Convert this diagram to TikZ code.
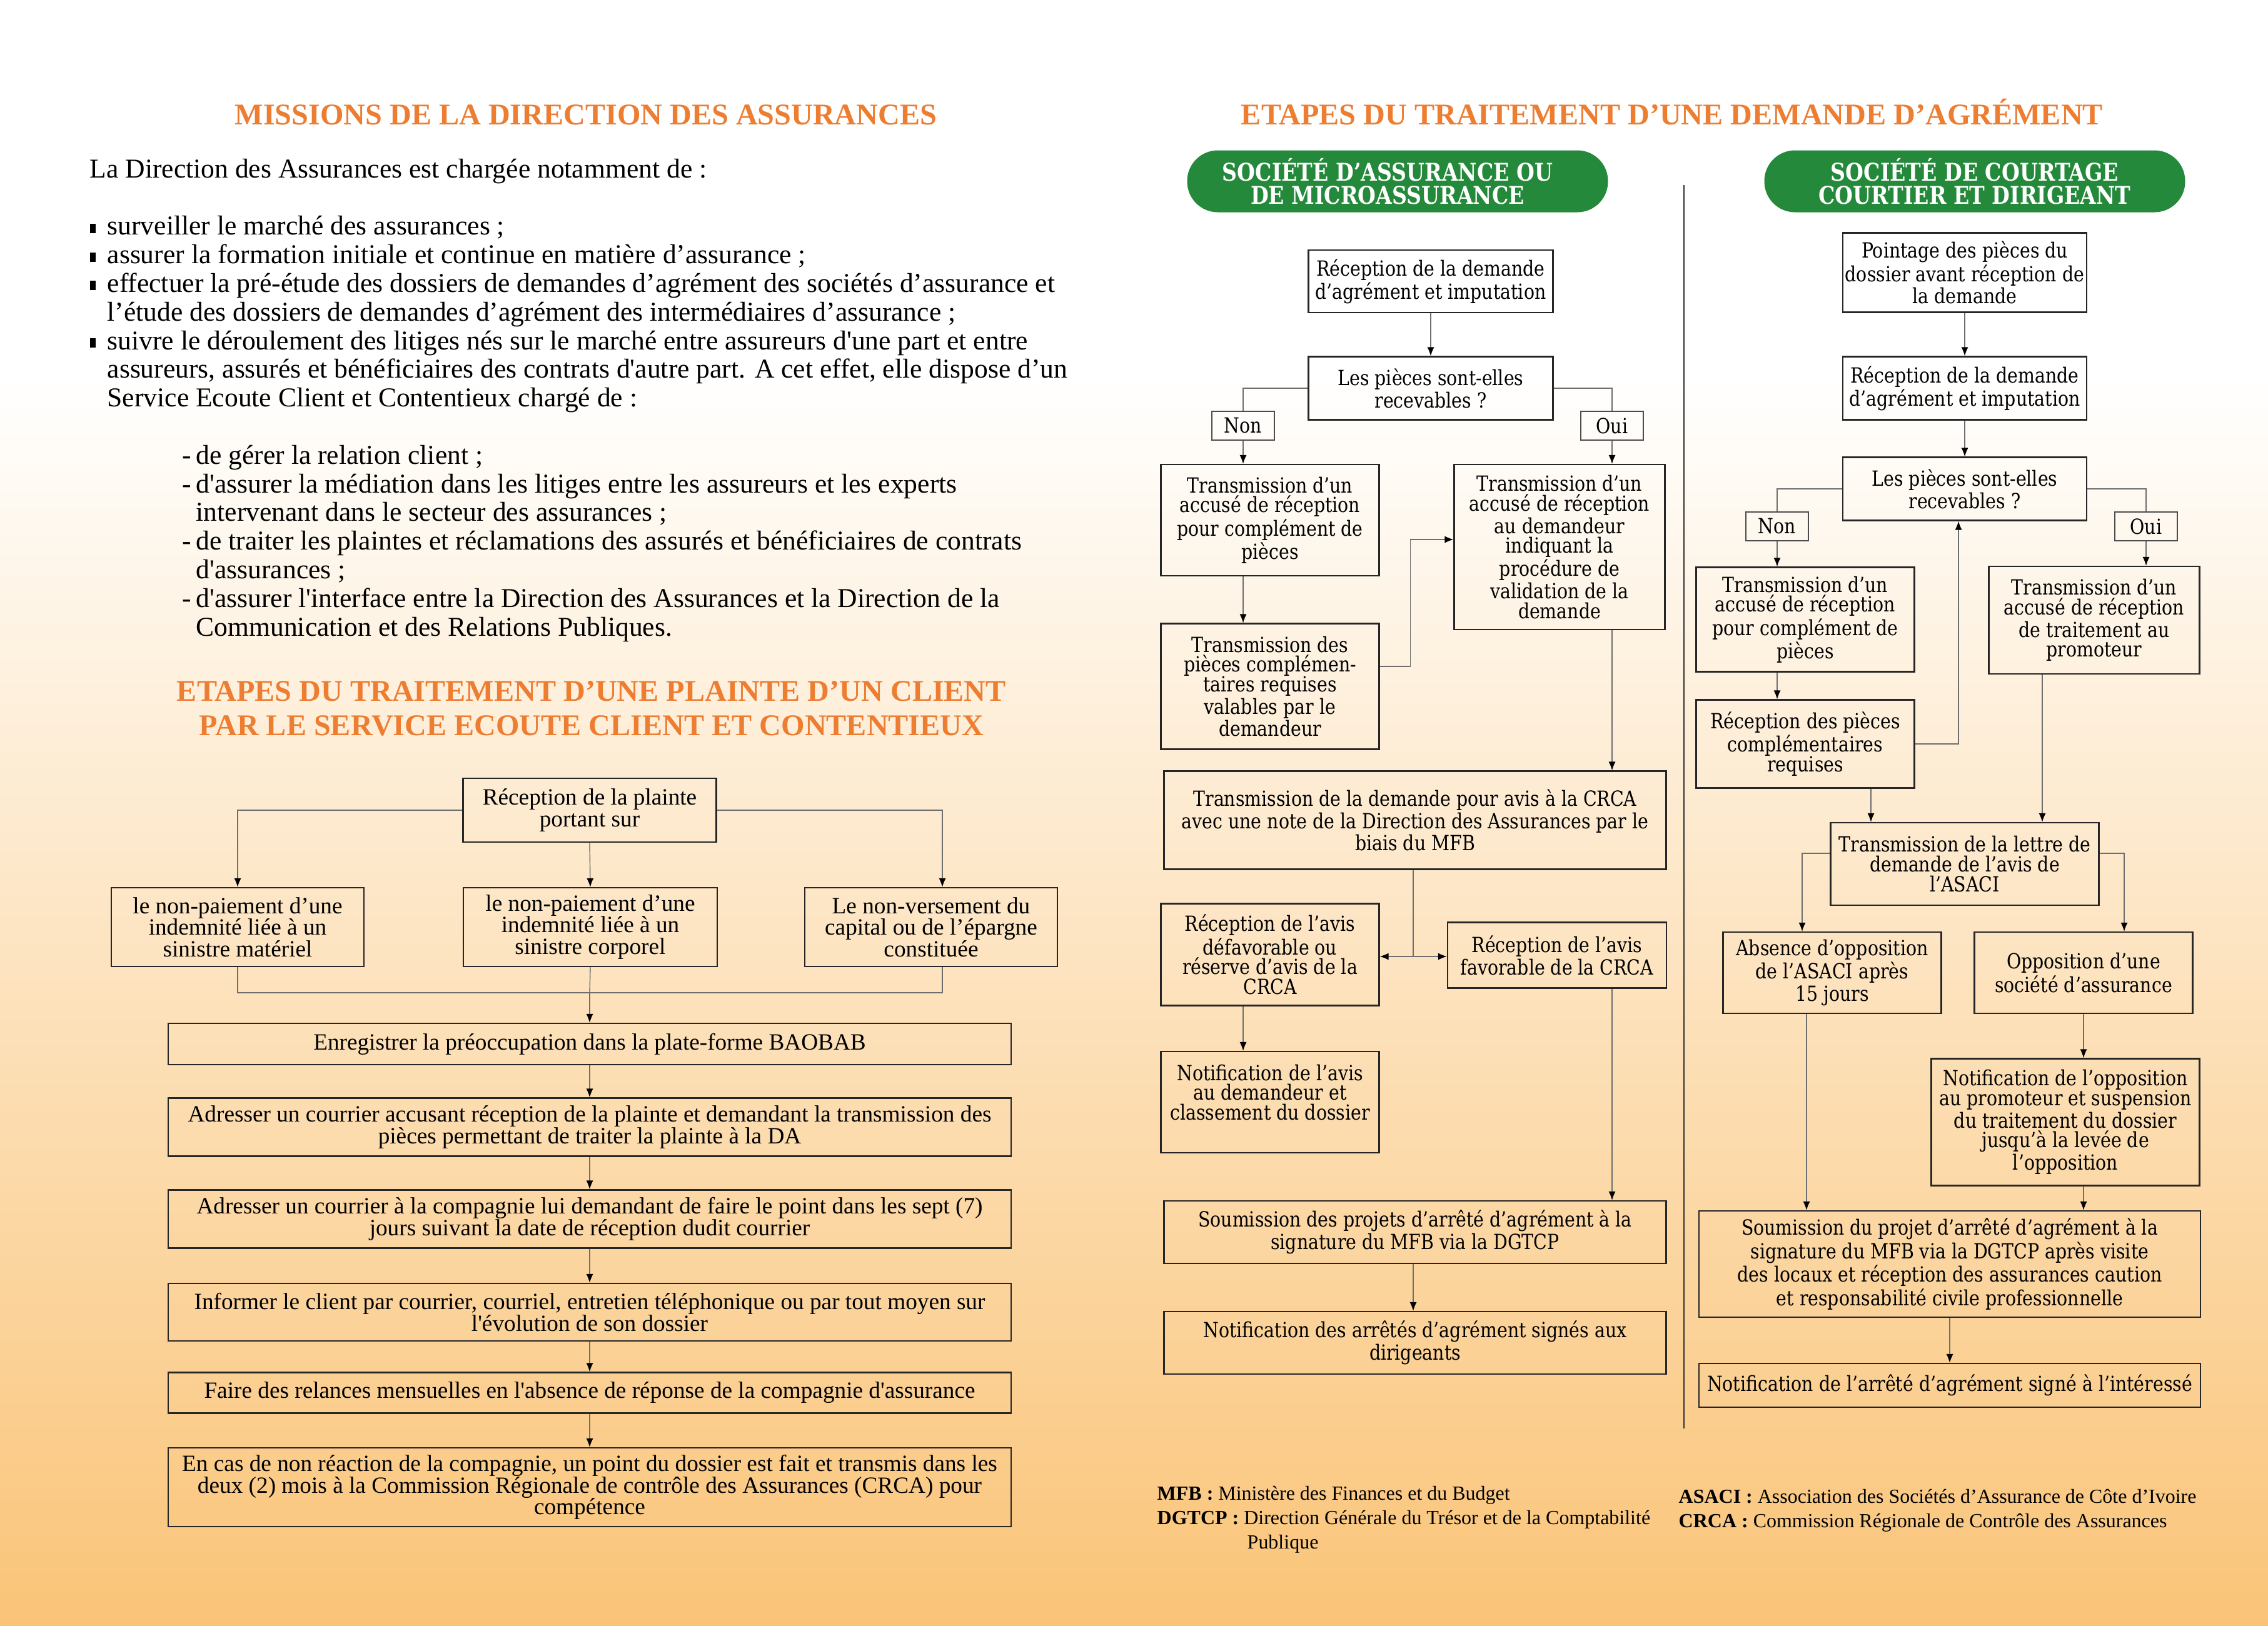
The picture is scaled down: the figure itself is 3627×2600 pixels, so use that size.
\documentclass[tikz,border=0pt]{standalone}
\usepackage{fontspec}
\setmainfont{Liberation Serif}[Ligatures=TeXOff]
\newfontfamily\bookman{DejaVu Serif}[FakeStretch=0.85]
\usetikzlibrary{arrows.meta}

\definecolor{titreorange}{RGB}{237,125,49}
\definecolor{vertpilule}{RGB}{36,137,58}
\definecolor{fondorange}{RGB}{250,196,120}
\definecolor{trait}{RGB}{110,110,110}

\newcommand{\puce}{\makebox[2.8mm][l]{\rule[0.15ex]{0.9mm}{1.5mm}}}
\newcommand{\tiret}{\hspace*{14.8mm}\makebox[2.2mm][l]{-}}
\newcommand{\suite}{\hspace*{2.8mm}}
\newcommand{\suitetiret}{\hspace*{17mm}}
\newcommand{\decale}{\hspace*{3.2mm}}

\tikzset{
  boite/.style 2 args={draw=black!85, line width=0.6pt, minimum width=#1, minimum height=#2, align=center, inner sep=0pt},
  gauche/.style={font=\fontsize{10.6}{9.8}\selectfont},
  droite/.style={font=\bookman\fontsize{9.5}{9}\selectfont},
  lien/.style={draw=trait, line width=0.4pt},
  fleche/.style={draw=trait, line width=0.4pt, -{Latex[length=1.4mm,width=1.1mm,color=black]}},
  titre/.style={font=\bfseries\fontsize{13.7}{15.6}\selectfont, text=titreorange, align=center},
  pilule/.style={fill=vertpilule, rounded corners=4.9mm, minimum width=67.3mm, minimum height=9.9mm, text=white, font=\bookman\bfseries\fontsize{11.1}{10.5}\selectfont, align=center, inner sep=0pt},
  etiquette/.style={draw=black!70, line width=0.4pt, minimum width=10mm, minimum height=4.6mm, inner sep=0pt, droite},
  texte/.style={font=\fontsize{12.4}{13.04}\selectfont, align=left, inner sep=0pt},
  legende/.style={font=\fontsize{9.1}{10}\selectfont, inner sep=0pt}
}

\begin{document}
\begin{tikzpicture}[x=0.1mm, y=-0.1mm]
% fond
\fill[white] (0,0) rectangle (3627,600);
\shade[top color=white, bottom color=fondorange] (0,600) rectangle (3627,2600);
\useasboundingbox (0,0) rectangle (3627,2600);

% titres
\node[titre, anchor=base] (titremissions) at (937,199) {MISSIONS DE LA DIRECTION DES ASSURANCES};
\node[titre] (titreplainte) at (946,1133) {ETAPES DU TRAITEMENT D’UNE PLAINTE D’UN CLIENT\\PAR LE  SERVICE ECOUTE CLIENT ET CONTENTIEUX};
\node[titre, anchor=base] (titreagrement) at (2674,199) {ETAPES DU TRAITEMENT D’UNE DEMANDE D’AGRÉMENT};

% missions
\node[texte, anchor=north west] (missions) at (143,253) {%
La Direction des Assurances est chargée notamment de :\\[13.04pt]
\puce surveiller le marché des assurances ;\\
\puce assurer la formation initiale et continue en matière d’assurance ;\\
\puce effectuer la pré-étude des dossiers de demandes d’agrément des sociétés d’assurance et\\
\suite l’étude des dossiers de demandes d’agrément des intermédiaires d’assurance ;\\
\puce suivre le déroulement des litiges nés sur le marché entre assureurs d'une part et entre\\
\suite assureurs, assurés et bénéficiaires des contrats d'autre part. A cet effet, elle dispose d’un\\
\suite Service Ecoute Client et Contentieux chargé de :\\[13.04pt]
\tiret de gérer la relation client ;\\
\tiret d'assurer la médiation dans les litiges entre les assureurs et les experts\\
\suitetiret intervenant dans le secteur des assurances ;\\
\tiret de traiter les plaintes et réclamations des assurés et bénéficiaires de contrats\\
\suitetiret d'assurances ;\\
\tiret d'assurer l'interface entre la Direction des Assurances et la Direction de la\\
\suitetiret Communication et des Relations Publiques.};

% plainte d'un client
\node[boite={40.5mm}{10.2mm}, gauche] (plainte) at (943,1296) {Réception de la plainte\\portant sur};
\node[boite={40.4mm}{12.6mm}, gauche] (materiel) at (380,1483) {le non-paiement d’une\\indemnité liée à un\\sinistre matériel};
\node[boite={40.6mm}{12.6mm}, gauche] (corporel) at (944,1483) {le non-paiement d’une\\indemnité liée à un\\sinistre corporel};
\node[boite={40.4mm}{12.6mm}, gauche] (capital) at (1489,1483) {Le non-versement du\\capital ou de l’épargne\\constituée};
\coordinate (jonction) at (943,1588);
\node[boite={134.8mm}{6.6mm}, gauche] (baobab) at (943,1670) {Enregistrer la préoccupation dans la plate-forme BAOBAB};
\node[boite={134.8mm}{9.3mm}, gauche] (courrier1) at (943,1803) {Adresser un courrier accusant réception de la plainte et demandant la transmission des\\pièces permettant de traiter la plainte à la DA};
\node[boite={134.8mm}{9.3mm}, gauche] (courrier2) at (943,1950) {Adresser un courrier à la compagnie lui demandant de faire le point dans les sept (7)\\jours suivant la date de réception dudit courrier};
\node[boite={134.8mm}{9.2mm}, gauche] (informer) at (943,2099) {Informer le client par courrier, courriel, entretien téléphonique ou par tout moyen sur\\l'évolution de son dossier};
\node[boite={134.8mm}{6.5mm}, gauche] (relances) at (943,2228) {Faire des relances mensuelles en l'absence de réponse de la compagnie d'assurance};
\node[boite={134.8mm}{12.6mm}, gauche] (competence) at (943,2379) {En cas de non réaction de la compagnie, un point du dossier est fait et transmis dans les\\deux (2) mois à la Commission Régionale de contrôle des Assurances (CRCA) pour\\compétence};

\draw[fleche] (plainte.west) -| (materiel.north);
\draw[fleche] (plainte.south) -- (corporel.north);
\draw[fleche] (plainte.east) -| ([xshift=1.8mm]capital.north);
\draw[lien] (materiel.south) |- (jonction) -| ([xshift=1.8mm]capital.south);
\draw[lien] (corporel.south) -- (jonction);
\draw[fleche] (jonction) -- (baobab.north);
\draw[fleche] (baobab) -- (courrier1);
\draw[fleche] (courrier1) -- (courrier2);
\draw[fleche] (courrier2) -- (informer);
\draw[fleche] (informer) -- (relances);
\draw[fleche] (relances) -- (competence);

% societe d'assurance
\node[pilule] (pilule1) at (2235,290) {SOCIÉTÉ D’ASSURANCE OU\decale\\DE MICROASSURANCE\decale};
\node[boite={39.1mm}{10mm}, droite] (recep1) at (2288,450) {Réception de la demande\\d’agrément et imputation};
\node[boite={39.1mm}{10.1mm}, droite] (question1) at (2288,621) {Les pièces sont-elles\\recevables ?};
\node[etiquette] (non1) at (1988,681) {Non};
\node[etiquette] (oui1) at (2578,681) {Oui};
\node[boite={34.9mm}{17.8mm}, droite] (accuse1) at (2031,832) {Transmission d’un\\accusé de réception\\pour complément de\\pièces};
\node[boite={33.7mm}{26.4mm}, droite] (accuseoui1) at (2494,875) {Transmission d’un\\accusé de réception\\au demandeur\\indiquant la\\procédure de\\validation de la\\demande};
\node[boite={34.9mm}{20.1mm}, droite] (pieces1) at (2031,1098) {Transmission des\\pièces complémen-\\taires requises\\valables par le\\demandeur};
\node[boite={80.3mm}{15.7mm}, droite] (transcrca) at (2263,1312) {Transmission de la demande pour avis à la CRCA\\avec une note de la Direction des Assurances par le\\biais du MFB};
\coordinate (partage) at (2260,1530);
\node[boite={34.9mm}{16.3mm}, droite] (defav) at (2031,1527) {Réception de l’avis\\défavorable ou\\réserve d’avis de la\\CRCA};
\node[boite={35mm}{10.5mm}, droite] (fav) at (2490,1528) {Réception de l’avis\\favorable de la CRCA};
\node[boite={34.9mm}{16.2mm}, droite] (notifavis) at (2031,1763) {Notification de l’avis\\au demandeur et\\classement du dossier\\ \mbox{}};
\node[boite={80.3mm}{10mm}, droite] (soumis1) at (2263,1971) {Soumission des projets d’arrêté d’agrément à la\\signature du MFB via la DGTCP};
\node[boite={80.3mm}{10mm}, droite] (notifarr) at (2263,2148) {Notification des arrêtés d’agrément signés aux\\dirigeants};

\draw[fleche] (recep1) -- (question1);
\draw[lien] (question1.west) -| (non1.north);
\draw[lien] (question1.east) -| (oui1.north);
\draw[fleche] (non1.south) -- (non1.south |- accuse1.north);
\draw[fleche] (oui1.south) -- (oui1.south |- accuseoui1.north);
\draw[fleche] (accuse1.south -| non1) -- (pieces1.north -| non1);
\draw[fleche] ([yshift=3.2mm]pieces1.east) -- ++(49,0) |- ([yshift=1.2mm]accuseoui1.west);
\draw[fleche] (accuseoui1.south -| oui1) -- (transcrca.north -| oui1);
\draw[lien] (transcrca.south -| partage) -- (partage);
\draw[fleche] (partage) -- (defav.east |- partage);
\draw[fleche] (partage) -- (fav.west |- partage);
\draw[fleche] (defav.south -| non1) -- (notifavis.north -| non1);
\draw[fleche] (fav.south -| oui1) -- (soumis1.north -| oui1);
\draw[fleche] (soumis1.south -| partage) -- (notifarr.north -| partage);

% separation
\draw[black!80, line width=0.6pt] (2693,296) -- (2693,2285);

% societe de courtage
\node[pilule] (pilule2) at (3158,290) {SOCIÉTÉ DE COURTAGE\\COURTIER ET DIRIGEANT};
\node[boite={39mm}{12.7mm}, droite] (pointage) at (3142,436) {Pointage des pièces du\\dossier avant réception de\\la  demande};
\node[boite={39mm}{10.1mm}, droite] (recep2) at (3142,621) {Réception de la demande\\d’agrément et imputation};
\node[boite={39mm}{10.1mm}, droite] (question2) at (3142,782) {Les pièces sont-elles\\recevables ?};
\node[etiquette] (non2) at (2842,842) {Non};
\node[etiquette] (oui2) at (3432,842) {Oui};
\node[boite={34.9mm}{16.7mm}, droite] (accuse2) at (2887,991) {Transmission d’un\\accusé de réception\\pour complément de\\pièces};
\node[boite={33.7mm}{17.2mm}, droite] (accuseoui2) at (3349,992) {Transmission d’un\\accusé de réception\\de traitement  au\\promoteur};
\node[boite={34.9mm}{14.1mm}, droite] (pieces2) at (2887,1190) {Réception des pièces\\complémentaires\\requises};
\node[boite={42.9mm}{13.2mm}, droite] (lettre) at (3142,1382) {Transmission de la lettre de\\demande de l’avis de\\l’ASACI};
\node[boite={34.9mm}{13mm}, droite] (absence) at (2930,1556) {Absence d’opposition\\de l’ASACI après\\15 jours};
\node[boite={34.9mm}{13mm}, droite] (opposition) at (3332,1556) {Opposition d’une\\société d’assurance};
\node[boite={42.9mm}{20.3mm}, droite] (notifopp) at (3303,1795) {Notification de l’opposition\\au promoteur et suspension\\du traitement du dossier\\jusqu’à la levée de\\l’opposition};
\node[boite={80.2mm}{17mm}, droite] (soumis2) at (3118,2022) {Soumission du projet d’arrêté d’agrément à la\\signature du MFB via la DGTCP après visite\\des locaux et réception des assurances caution\\et responsabilité civile professionnelle};
\node[boite={80.2mm}{7mm}, droite] (notiffin) at (3118,2216) {Notification de l’arrêté d’agrément signé à l’intéressé};

\draw[fleche] (pointage) -- (recep2);
\draw[fleche] (recep2) -- (question2);
\draw[lien] (question2.west) -| (non2.north);
\draw[lien] (question2.east) -| (oui2.north);
\draw[fleche] (non2.south) -- (non2.south |- accuse2.north);
\draw[fleche] (oui2.south) -- (oui2.south |- accuseoui2.north);
\draw[fleche] (accuse2.south -| non2) -- (pieces2.north -| non2);
\draw[fleche] (pieces2.east) -| ([xshift=-1mm]question2.south);
\draw[fleche] ([xshift=10.5mm]pieces2.south) -- ([xshift=10.5mm]pieces2.south |- lettre.north);
\draw[fleche] ([xshift=-8.3mm]accuseoui2.south) -- ([xshift=-8.3mm]accuseoui2.south |- lettre.north);
\draw[fleche] ([yshift=1.7mm]lettre.west) -| ([xshift=-4.8mm]absence.north);
\draw[fleche] ([yshift=1.7mm]lettre.east) -| ([xshift=6.5mm]opposition.north);
\draw[fleche] (opposition.south) -- (opposition.south |- notifopp.north);
\draw[fleche] ([xshift=-4.1mm]absence.south) -- ([xshift=-4.1mm]absence.south |- soumis2.north);
\draw[fleche] (notifopp.south -| opposition) -- (soumis2.north -| opposition);
\draw[fleche] (soumis2) -- (notiffin);

% sigles
\node[legende, anchor=base west] (mfb) at (1850,2399) {\textbf{MFB :} Ministère des Finances et du Budget};
\node[legende, anchor=base west] (dgtcp) at (1850,2438) {\textbf{DGTCP :} Direction Générale du Trésor et de la Comptabilité};
\node[legende, anchor=base west] (publique) at (1994,2477) {Publique};
\node[legende, anchor=base west] (asaci) at (2684,2404) {\textbf{ASACI :} Association des Sociétés d’Assurance de Côte d’Ivoire};
\node[legende, anchor=base west] (crca) at (2684,2443) {\textbf{CRCA :} Commission Régionale de Contrôle des Assurances};
\end{tikzpicture}
\end{document}
